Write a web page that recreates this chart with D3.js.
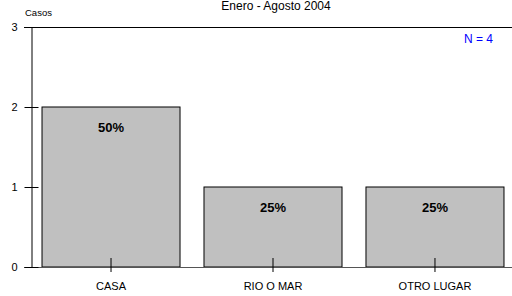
<!DOCTYPE html>
<html>
<head>
<meta charset="utf-8">
<script src="https://cdn.jsdelivr.net/npm/d3@7"></script>
<style>
  body { margin: 0; background: #fff; }
  text { font-family: "Liberation Sans", Arial, sans-serif; }
</style>
</head>
<body>
<div id="container"></div>
<script>
/* DATA */
const categories = ["CASA", "RIO O MAR", "OTRO LUGAR"];
const casos = [2, 1, 1];
const percentLabels = ["50%", "25%", "25%"];
const yTicks = [0, 1, 2, 3];
const title = "Enero - Agosto 2004";
const totalLabel = "N = 4";

/* CONSTANTS */
const width = 512,
  height = 296,
  margin = { top: 27, bottom: 29, left: 31, right: -3 };

const svg = d3.select("#container")
  .append("svg")
  .attr("width", width)
  .attr("height", height);

// scales
const xScale = d3.scaleBand()
  .domain(categories)
  .range([margin.left, width - margin.right])
  .paddingInner(0.148)
  .paddingOuter(0.068);

const yScale = d3.scaleLinear()
  .domain([0, 3])
  .range([height - margin.bottom, margin.top]);

// bars
svg.selectAll(".bar")
  .data(categories)
  .join("rect")
  .attr("class", "bar")
  .attr("x", d => xScale(d))
  .attr("y", (d, i) => yScale(casos[i]))
  .attr("width", xScale.bandwidth())
  .attr("height", (d, i) => yScale(0) - yScale(casos[i]))
  .attr("fill", "#c0c0c0")
  .attr("stroke", "#000")
  .attr("stroke-width", 1);

// percent labels
svg.selectAll(".pct")
  .data(categories)
  .join("text")
  .attr("class", "pct")
  .attr("x", d => xScale(d) + xScale.bandwidth() / 2)
  .attr("y", (d, i) => yScale(casos[i]) + 25)
  .attr("text-anchor", "middle")
  .attr("font-size", 13)
  .attr("font-weight", "bold")
  .attr("fill", "#000")
  .text((d, i) => percentLabels[i]);

// top frame line
svg.append("line")
  .attr("x1", margin.left - 7).attr("x2", width)
  .attr("y1", yScale(3) + 0.5).attr("y2", yScale(3) + 0.5)
  .attr("stroke", "#000");

// baseline
svg.append("line")
  .attr("x1", margin.left - 7).attr("x2", width)
  .attr("y1", yScale(0) + 0.5).attr("y2", yScale(0) + 0.5)
  .attr("stroke", "#555");

// y axis
const yAxis = d3.axisLeft(yScale)
  .tickValues(yTicks)
  .tickFormat(d3.format("d"))
  .tickSizeInner(7)
  .tickSizeOuter(0)
  .tickPadding(7);

const yAxisGroup = svg.append("g")
  .attr("transform", `translate(${margin.left + 0.5},0)`)
  .call(yAxis);
yAxisGroup.select(".domain").attr("stroke", "#000");
yAxisGroup.selectAll(".tick line").attr("stroke", "#000").attr("x2", 7).attr("x1", -7);
yAxisGroup.selectAll(".tick text")
  .attr("font-size", 11)
  .attr("font-family", "Liberation Sans, Arial, sans-serif")
  .attr("fill", "#000");

// x axis
const xAxis = d3.axisBottom(xScale).tickSizeInner(6).tickSizeOuter(0).tickPadding(9);
const xAxisGroup = svg.append("g")
  .attr("transform", `translate(0,${yScale(0)})`)
  .call(xAxis);
xAxisGroup.select(".domain").remove();
xAxisGroup.selectAll(".tick line").attr("stroke", "#000").attr("y1", -9).attr("y2", 5);
xAxisGroup.selectAll(".tick text")
  .attr("font-size", 11)
  .attr("font-family", "Liberation Sans, Arial, sans-serif")
  .attr("fill", "#000");

// title
svg.append("text")
  .attr("x", 276)
  .attr("y", 10)
  .attr("text-anchor", "middle")
  .attr("font-size", 12)
  .text(title);

// y label
svg.append("text")
  .attr("x", 25)
  .attr("y", 16)
  .attr("font-size", 9.5)
  .text("Casos");

// N label
svg.append("text")
  .attr("x", 493)
  .attr("y", 43)
  .attr("text-anchor", "end")
  .attr("font-size", 12)
  .attr("fill", "#0000ff")
  .text(totalLabel);
</script>
</body>
</html>
